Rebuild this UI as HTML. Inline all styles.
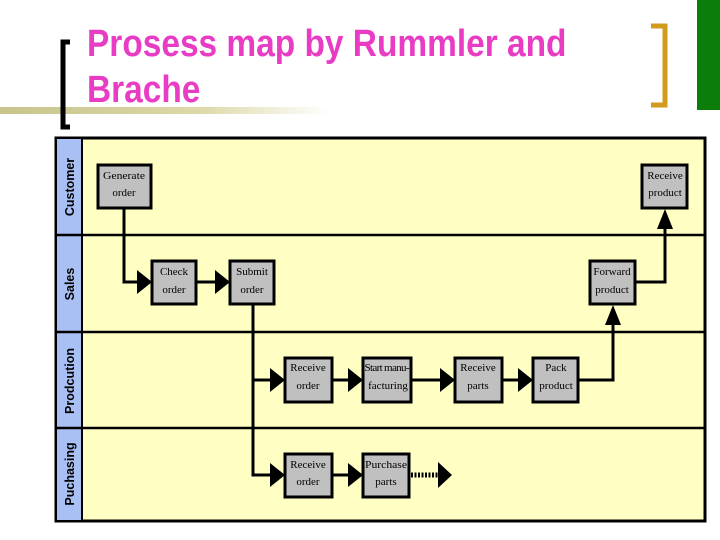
<!DOCTYPE html>
<html><head><meta charset="utf-8"><style>
body{margin:0;width:720px;height:540px;background:#fff;overflow:hidden;position:relative;font-family:"Liberation Sans",sans-serif}
.t{position:absolute;left:87px;color:#e83cc4;font-weight:bold;font-size:38px;line-height:46px;top:21px;white-space:nowrap;transform:scaleX(0.88);transform-origin:0 0}
</style></head><body>
<div style="position:absolute;left:0;top:107px;width:330px;height:7px;background:linear-gradient(90deg,#c8c48c,#dcd8a8 60%,#fff)"></div>
<div style="position:absolute;left:697px;top:0;width:23px;height:110px;background:#0a7d0a"></div>
<div class="t">Prosess map by Rummler and<br>Brache</div>
<svg width="720" height="540" style="position:absolute;left:0;top:0">
<path d="M70 42 H63 V127 H70" fill="none" stroke="#000" stroke-width="5"/>
<path d="M651 26 H665 V105 H651" fill="none" stroke="#d29b1c" stroke-width="5"/>
<rect x="56" y="138" width="649" height="383" fill="#ffffc4" stroke="#000" stroke-width="3"/>
<rect x="57" y="139" width="25" height="381" fill="#a8c0f4"/>
<line x1="82" y1="138" x2="82" y2="521" stroke="#000" stroke-width="2"/>
<g stroke="#000" stroke-width="2.5"><line x1="56" y1="235" x2="705" y2="235"/><line x1="56" y1="332" x2="705" y2="332"/><line x1="56" y1="428" x2="705" y2="428"/></g>
<g font-family="Liberation Sans" font-weight="bold" font-size="12.5" text-anchor="middle">
<text transform="translate(74,187) rotate(-90)">Customer</text>
<text transform="translate(74,284) rotate(-90)">Sales</text>
<text transform="translate(74,381) rotate(-90)">Prodcution</text>
<text transform="translate(74,474) rotate(-90)">Puchasing</text>
</g>
<g fill="none" stroke="#000" stroke-width="3">
<path d="M124 208 V282 H140"/><path d="M196 282 H218"/>
<path d="M253 304 V475 H272"/><path d="M253 380 H272"/>
<path d="M332 380 H350"/><path d="M411 380 H443"/><path d="M502 380 H521"/>
<path d="M578 380 H613 V316"/><path d="M634 282 H665 V220"/>
<path d="M332 475 H350"/>
</g>
<path d="M411 475 H438" stroke="#000" stroke-width="5" stroke-dasharray="2,1.5"/>
<g fill="#000">
<polygon points="137,270 152,282 137,294"/><polygon points="215,270 230,282 215,294"/>
<polygon points="270,368 285,380 270,392"/><polygon points="348,368 363,380 348,392"/>
<polygon points="440,368 455,380 440,392"/><polygon points="518,368 533,380 518,392"/>
<polygon points="270,463 285,475 270,487"/><polygon points="348,463 363,475 348,487"/>
<polygon points="438,462 452,475 438,488"/>
<polygon points="605,325 613,305 621,325"/>
<polygon points="657,229 665,209 673,229"/>
</g>
<g fill="#c0c0c0" stroke="#000" stroke-width="3">
<rect x="98" y="165" width="53" height="43"/>
<rect x="152" y="261" width="44" height="43"/>
<rect x="230" y="261" width="44" height="43"/>
<rect x="642" y="165" width="45" height="43"/>
<rect x="590" y="261" width="45" height="43"/>
<rect x="285" y="358" width="47" height="44"/>
<rect x="363" y="358" width="48" height="44"/>
<rect x="455" y="358" width="47" height="44"/>
<rect x="533" y="358" width="45" height="44"/>
<rect x="285" y="454" width="47" height="43"/>
<rect x="363" y="454" width="46" height="43"/>
</g>
<g font-family="Liberation Serif" font-size="11" text-anchor="middle" fill="#000">
<text x="124" y="179" textLength="42" lengthAdjust="spacingAndGlyphs">Generate</text><text x="124" y="196">order</text>
<text x="174" y="275">Check</text><text x="174" y="293">order</text>
<text x="252" y="275">Submit</text><text x="252" y="293">order</text>
<text x="665" y="179">Receive</text><text x="665" y="196">product</text>
<text x="612" y="275">Forward</text><text x="612" y="293">product</text>
<text x="308" y="371">Receive</text><text x="308" y="389">order</text>
<text x="387" y="371" textLength="45" lengthAdjust="spacing">Start manu-</text><text x="388" y="389">facturing</text>
<text x="478" y="371">Receive</text><text x="478" y="389">parts</text>
<text x="556" y="371">Pack</text><text x="556" y="389">product</text>
<text x="308" y="468">Receive</text><text x="308" y="485">order</text>
<text x="386" y="468" textLength="42" lengthAdjust="spacingAndGlyphs">Purchase</text><text x="386" y="485">parts</text>
</g>
</svg>
</body></html>
